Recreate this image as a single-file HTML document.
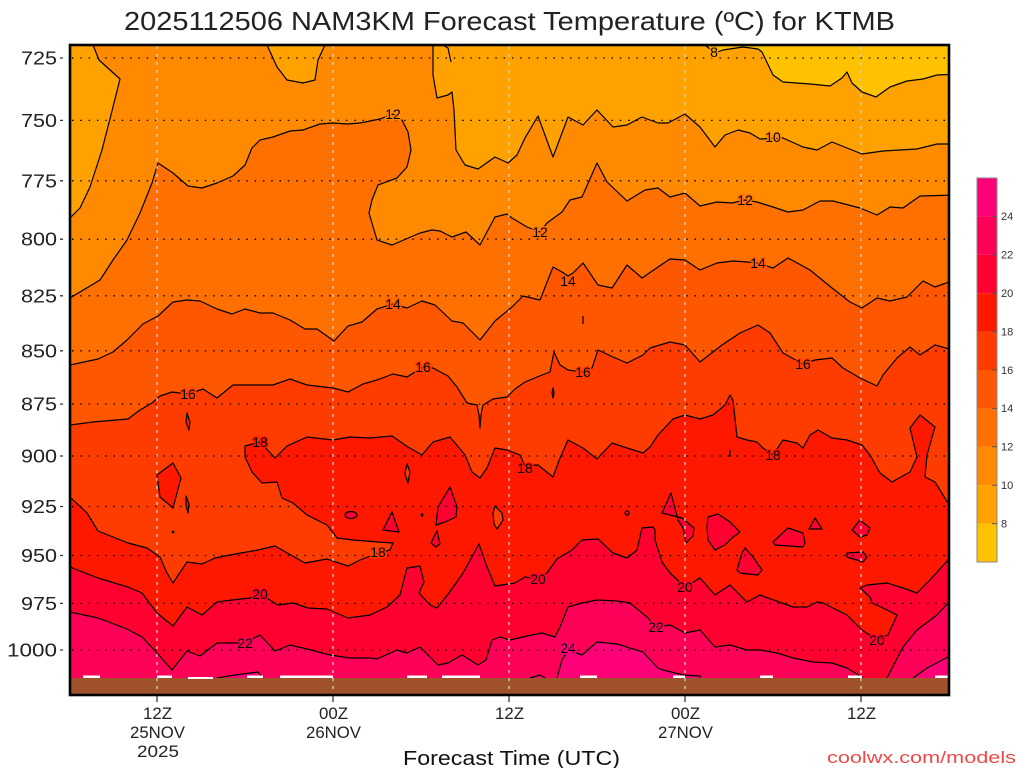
<!DOCTYPE html>
<html><head><meta charset="utf-8"><style>
html,body{margin:0;padding:0;background:#fff;}
svg{display:block;font-family:"Liberation Sans",sans-serif;}
</style></head><body>
<svg width="1024" height="768" viewBox="0 0 1024 768" xmlns="http://www.w3.org/2000/svg">
<defs><clipPath id="c"><rect x="70" y="45" width="879" height="650"/></clipPath></defs>
<rect width="1024" height="768" fill="#fff"/>
<g clip-path="url(#c)" stroke="#000" stroke-width="1.2" stroke-linejoin="round">
<rect x="60" y="38" width="900" height="672" fill="#FF8A00" stroke="none"/>
<!-- <10 regions -->
<path fill="#FFA200" d="M93,38 L93,45 L99,60 L120,79 L113,107 L102,150 L90,187 L80,208 L70,218 L60,220 L60,38 Z"/>
<path fill="#FFA200" d="M267,38 L267,45 L277,67 L287,80 L303,83 L315,80 L318,60 L325,45 L325,38 Z"/>
<path fill="#FFA200" d="M433,38 L433,45 L433,75 L437,98 L448,95 L452,92 L454,110 L456,150 L465,165 L478,169 L495,157 L508,163 L517,155 L525,138 L538,116 L553,157 L568,117 L583,125 L597,110 L613,127 L627,125 L642,117 L658,123 L668,123 L685,114 L700,127 L715,147 L725,135 L738,130 L750,133 L760,139 L783,138 L803,147 L817,150 L832,142 L847,148 L862,154 L883,151 L917,149 L937,144 L960,144 L960,38 Z"/>
<path fill="none" d="M443,45 L448,48 L451,62"/>
<!-- <8 -->
<path fill="#FFC200" d="M705,38 L705,45 L715,53 L723,50 L743,47 L758,49 L762,52 L773,75 L783,82 L810,84 L830,86 L842,78 L847,72 L852,83 L862,92 L876,97 L890,87 L907,81 L923,79 L937,75 L960,74 L960,38 Z"/>
<!-- >=12 -->
<path fill="#FF7000" d="M60,298 L70,298 L100,280 L113,260 L127,240 L140,213 L152,183 L158,163 L173,173 L188,186 L202,188 L217,183 L233,176 L245,165 L252,148 L260,140 L273,137 L290,131 L303,130 L320,124 L333,123 L347,124 L360,123 L380,119 L393,114 L402,120 L408,132 L411,150 L407,167 L397,178 L378,185 L372,200 L369,213 L377,240 L392,245 L420,233 L432,230 L440,231 L452,237 L466,232 L480,245 L495,217 L507,214 L512,218 L527,227 L540,232 L547,223 L562,212 L570,200 L582,197 L597,163 L607,182 L627,201 L645,190 L658,188 L670,197 L685,193 L700,206 L717,202 L732,203 L745,200 L757,202 L773,207 L788,212 L803,210 L820,201 L833,201 L860,208 L877,215 L890,207 L903,208 L920,196 L960,195 L960,710 L60,710 Z"/>
<!-- >=14 -->
<path fill="#FF5700" d="M60,365 L70,365 L98,359 L113,352 L127,340 L143,324 L158,316 L173,302 L187,300 L200,301 L217,309 L232,314 L245,309 L260,313 L273,313 L290,320 L305,329 L317,329 L334,341 L348,326 L362,322 L377,309 L393,304 L407,308 L422,301 L435,305 L452,321 L463,323 L480,340 L495,321 L512,307 L523,296 L540,300 L553,267 L562,272 L568,276 L573,273 L583,263 L598,285 L612,288 L627,265 L642,278 L658,267 L670,259 L685,260 L700,270 L717,263 L733,261 L747,262 L758,263 L773,268 L788,258 L810,270 L832,288 L850,302 L862,308 L877,298 L890,301 L907,297 L923,281 L935,287 L960,278 L960,710 L60,710 Z"/>
<path fill="none" d="M583,316 L583,324"/>
<!-- >=16 -->
<path fill="#FF3C00" d="M60,425 L70,425 L93,422 L128,419 L140,410 L152,403 L160,396 L172,392 L188,394 L203,389 L217,398 L233,385 L273,385 L290,379 L307,385 L333,388 L348,392 L363,384 L377,380 L393,374 L407,377 L415,372 L423,367 L433,368 L448,376 L457,387 L467,403 L477,405 L479,415 L480,428 L481,415 L483,405 L493,399 L507,397 L515,389 L525,382 L542,375 L550,372 L554,352 L560,365 L568,370 L583,372 L592,368 L598,350 L613,357 L627,363 L643,355 L650,348 L670,342 L685,345 L700,362 L722,345 L740,333 L758,325 L770,333 L783,353 L803,364 L815,360 L832,358 L843,368 L860,378 L877,386 L883,375 L897,358 L910,347 L920,355 L935,345 L960,352 L960,710 L60,710 Z"/>
<path fill="#FF1800" d="M187,413 L190,422 L189,430 L186,422 Z"/>
<path fill="#FF1800" d="M553,388 L554,393 L553,398 L552,393 Z"/>
<!-- >=18 -->
<path fill="#FF1800" d="M60,497 L70,497 L87,513 L98,531 L128,543 L147,548 L160,557 L167,573 L173,583 L187,562 L202,564 L215,558 L230,555 L258,550 L275,546 L305,563 L327,559 L348,566 L360,560 L378,553 L390,550 L393,543 L378,542 L353,540 L337,538 L327,525 L307,515 L293,503 L282,498 L277,482 L262,483 L252,472 L245,457 L245,446 L260,442 L275,458 L287,446 L307,437 L333,440 L350,437 L370,438 L392,436 L408,447 L422,455 L433,442 L450,437 L465,455 L472,472 L480,478 L487,468 L495,448 L507,450 L520,455 L525,466 L538,465 L553,477 L560,458 L568,440 L583,448 L597,459 L612,443 L627,448 L643,453 L650,447 L658,435 L673,419 L685,415 L700,419 L713,415 L725,405 L730,395 L733,400 L737,437 L747,440 L757,442 L763,448 L773,455 L783,440 L797,443 L803,448 L810,435 L818,430 L832,438 L847,440 L862,445 L870,455 L880,473 L892,482 L910,472 L917,457 L910,428 L920,415 L935,427 L927,455 L925,477 L935,482 L948,503 L960,505 L960,710 L60,710 Z"/>
<path fill="#FF1800" d="M157,475 L173,463 L181,478 L173,508 L160,497 Z"/>
<path fill="#FF1800" d="M186,496 L189,504 L188,513 L186,505 Z"/>
<path fill="#FF3C00" d="M407,464 L410,472 L408,483 L405,474 Z"/>
<path fill="#FF3C00" d="M495,506 L502,513 L503,520 L497,529 L494,524 L493,513 Z"/>
<ellipse cx="173" cy="532" rx="0.8" ry="0.8" fill="#000"/>
<ellipse cx="422" cy="515" rx="0.8" ry="1.2" fill="#000"/>
<path fill="none" d="M730,450 L730,457"/>
<!-- >=20 -->
<path fill="#FF0030" d="M60,567 L70,567 L98,578 L128,587 L142,593 L157,613 L173,626 L187,607 L202,615 L217,602 L232,600 L250,598 L260,594 L270,600 L278,605 L293,603 L308,608 L327,609 L348,618 L370,615 L387,607 L400,595 L407,568 L420,566 L424,582 L419,593 L430,605 L437,608 L449,593 L463,573 L479,544 L487,567 L495,586 L515,583 L525,577 L538,579 L547,573 L557,559 L572,550 L582,540 L598,539 L613,553 L627,558 L637,550 L642,528 L653,527 L655,530 L655,540 L662,562 L670,573 L685,587 L700,578 L715,595 L730,585 L747,602 L760,595 L793,607 L807,607 L817,602 L823,603 L847,615 L862,630 L877,640 L888,635 L897,615 L883,608 L872,603 L870,597 L860,588 L867,585 L887,583 L903,588 L917,593 L930,580 L948,560 L960,558 L960,710 L60,710 Z"/>
<ellipse cx="351" cy="515" rx="6" ry="3.5" fill="#FF0030"/>
<path fill="#FF0030" d="M392,512 L383,530 L399,532 Z"/>
<path fill="#FF0030" d="M450,487 L457,507 L456,517 L445,522 L436,525 L438,507 Z"/>
<path fill="#FF0030" d="M437,531 L440,544 L436,547 L431,543 Z"/>
<circle cx="627" cy="513" r="2" fill="#FF0030"/>
<path fill="#FF0030" d="M671,493 L662,513 L682,518 L694,528 L693,536 L686,543 L683,528 L678,520 Z"/>
<path fill="#FF0030" d="M708,517 L718,514 L730,522 L740,532 L732,538 L725,545 L715,550 L708,540 L707,527 Z"/>
<path fill="#FF0030" d="M745,548 L753,557 L762,570 L758,575 L740,573 L737,570 L742,553 Z"/>
<path fill="#FF0030" d="M788,528 L803,533 L805,543 L803,547 L775,545 L773,542 Z"/>
<path fill="#FF0030" d="M815,518 L822,529 L809,529 Z"/>
<path fill="#FF0030" d="M860,520 L870,528 L867,535 L860,537 L852,530 Z"/>
<path fill="#FF0030" d="M847,553 L863,552 L867,557 L863,562 L847,557 Z"/>
<!-- >=22 -->
<path fill="#FF0058" d="M60,612 L70,612 L98,618 L127,629 L142,637 L157,653 L172,670 L187,651 L200,656 L217,643 L245,643 L260,635 L275,651 L290,645 L307,649 L330,655 L350,658 L370,658 L377,659 L397,650 L407,653 L420,647 L438,665 L448,663 L462,655 L478,665 L486,660 L492,640 L500,637 L510,640 L527,636 L542,633 L555,637 L560,627 L568,607 L582,603 L597,600 L617,601 L630,603 L647,617 L656,627 L670,625 L685,633 L700,630 L715,647 L730,645 L747,650 L760,650 L777,653 L793,658 L813,662 L832,663 L847,668 L862,677 L864,705 L885,705 L887,678 L903,647 L917,630 L937,615 L948,603 L960,602 L960,710 L60,710 Z"/>
<!-- >=24 -->
<path fill="#FF0078" d="M555,705 L557,678 L562,660 L568,650 L582,655 L597,642 L617,644 L643,652 L658,668 L663,670 L683,675 L700,676 L705,705 Z"/>
<path fill="#FF0078" d="M913,705 L913,678 L927,668 L948,657 L960,655 L960,705 Z"/>
<path fill="#FF0078" d="M215,705 L217,678 L235,675 L258,672 L263,678 L265,705 Z"/>
<path fill="#FF0078" d="M528,705 L530,678 L540,675 L545,678 L546,705 Z"/>
<!-- terrain -->
<rect x="60" y="678" width="900" height="20" fill="#A0522D" stroke="none"/>
<g fill="#fff" stroke="none">
<rect x="83" y="675.5" width="17" height="2.5"/>
<rect x="157" y="675.5" width="15" height="2.5"/>
<rect x="188" y="677" width="25" height="2"/>
<rect x="247" y="675.5" width="16" height="2.5"/>
<rect x="280" y="675.5" width="53" height="2.5"/>
<rect x="407" y="675.5" width="20" height="2.5"/>
<rect x="442" y="675.5" width="38" height="2.5"/>
<rect x="580" y="675.5" width="17" height="2.5"/>
<rect x="673" y="675.5" width="12" height="2.5"/>
<rect x="760" y="675.5" width="13" height="2.5"/>
<rect x="848" y="675.5" width="14" height="2.5"/>
<rect x="935" y="675.5" width="14" height="2.5"/>
</g>
</g>
<!-- grid -->
<g stroke="#000" stroke-width="1.3" stroke-dasharray="1.5 6.8" fill="none">
<path d="M72,58H949M72,120.4H949M72,180.8H949M72,239.2H949M72,295.8H949M72,350.8H949M72,404.1H949M72,456H949M72,506.5H949M72,555.5H949M72,603.4H949M72,650H949"/>
</g>
<g stroke="#cfcfcf" stroke-width="1.3" stroke-dasharray="3 5" fill="none">
<path d="M157,46V694M333,46V694M509,46V694M685,46V694M861,46V694"/>
</g>
<!-- contour labels -->
<g font-size="14" fill="#000" text-anchor="middle" stroke-width="3" paint-order="stroke" stroke-linejoin="round">
<text x="714" y="57" stroke="#FFA200">8</text>
<text x="393" y="119" stroke="#FF8A00">12</text>
<text x="773" y="142" stroke="#FF8A00">10</text>
<text x="540" y="237" stroke="#FF7000">12</text>
<text x="745" y="205" stroke="#FF7000">12</text>
<text x="393" y="309" stroke="#FF5700">14</text>
<text x="568" y="286" stroke="#FF5700">14</text>
<text x="758" y="268" stroke="#FF5700">14</text>
<text x="188" y="399" stroke="#FF3C00">16</text>
<text x="423" y="372" stroke="#FF3C00">16</text>
<text x="583" y="377" stroke="#FF3C00">16</text>
<text x="803" y="369" stroke="#FF3C00">16</text>
<text x="260" y="447" stroke="#FF1800">18</text>
<text x="378" y="557" stroke="#FF3C00">18</text>
<text x="525" y="473" stroke="#FF1800">18</text>
<text x="773" y="460" stroke="#FF1800">18</text>
<text x="260" y="599" stroke="#FF0030">20</text>
<text x="538" y="584" stroke="#FF0030">20</text>
<text x="685" y="592" stroke="#FF0030">20</text>
<text x="877" y="645" stroke="#FF0030">20</text>
<text x="245" y="648" stroke="#FF0058">22</text>
<text x="656" y="632" stroke="#FF0058">22</text>
<text x="568" y="653" stroke="#FF0078">24</text>
</g>
<!-- border -->
<rect x="70" y="45" width="879" height="650" fill="none" stroke="#000" stroke-width="2.6"/>
<!-- y ticks -->
<g stroke="#333" stroke-width="1.3">
<path d="M60,58H63M60,120.4H63M60,180.8H63M60,239.2H63M60,295.8H63M60,350.8H63M60,404.1H63M60,456H63M60,506.5H63M60,555.5H63M60,603.4H63M60,650H63"/>
<path d="M157,696V702M333,696V702M509,696V702M685,696V702M861,696V702"/>
</g>
<g font-size="18" fill="#222" text-anchor="end" lengthAdjust="spacingAndGlyphs">
<text x="57" y="64.5" textLength="36" lengthAdjust="spacingAndGlyphs">725</text>
<text x="57" y="127" textLength="36" lengthAdjust="spacingAndGlyphs">750</text>
<text x="57" y="187.5" textLength="36" lengthAdjust="spacingAndGlyphs">775</text>
<text x="57" y="245.5" textLength="36" lengthAdjust="spacingAndGlyphs">800</text>
<text x="57" y="302.5" textLength="36" lengthAdjust="spacingAndGlyphs">825</text>
<text x="57" y="357.5" textLength="36" lengthAdjust="spacingAndGlyphs">850</text>
<text x="57" y="410.5" textLength="36" lengthAdjust="spacingAndGlyphs">875</text>
<text x="57" y="462.5" textLength="36" lengthAdjust="spacingAndGlyphs">900</text>
<text x="57" y="513" textLength="36" lengthAdjust="spacingAndGlyphs">925</text>
<text x="57" y="562" textLength="36" lengthAdjust="spacingAndGlyphs">950</text>
<text x="57" y="610" textLength="36" lengthAdjust="spacingAndGlyphs">975</text>
<text x="57" y="656.5" textLength="50" lengthAdjust="spacingAndGlyphs">1000</text>
</g>
<g font-size="17" fill="#222">
<text x="143" y="719" textLength="29" lengthAdjust="spacingAndGlyphs">12Z</text>
<text x="130" y="738" textLength="55" lengthAdjust="spacingAndGlyphs">25NOV</text>
<text x="137" y="757" textLength="42" lengthAdjust="spacingAndGlyphs">2025</text>
<text x="319" y="719" textLength="29" lengthAdjust="spacingAndGlyphs">00Z</text>
<text x="306" y="738" textLength="55" lengthAdjust="spacingAndGlyphs">26NOV</text>
<text x="495" y="719" textLength="29" lengthAdjust="spacingAndGlyphs">12Z</text>
<text x="671" y="719" textLength="29" lengthAdjust="spacingAndGlyphs">00Z</text>
<text x="658" y="738" textLength="55" lengthAdjust="spacingAndGlyphs">27NOV</text>
<text x="847" y="719" textLength="29" lengthAdjust="spacingAndGlyphs">12Z</text>
</g>
<text x="403" y="765" font-size="20" fill="#111" textLength="217" lengthAdjust="spacingAndGlyphs">Forecast Time (UTC)</text>
<text x="827" y="763" font-size="17" fill="#F04848" textLength="189" lengthAdjust="spacingAndGlyphs">coolwx.com/models</text>
<text x="124" y="30" font-size="26" fill="#222" textLength="771" lengthAdjust="spacingAndGlyphs">2025112506 NAM3KM Forecast Temperature (ºC) for KTMB</text>
<!-- colorbar -->
<g stroke="none">
<rect x="977" y="523.6" width="20" height="38.4" fill="#FFC200"/>
<rect x="977" y="485.2" width="20" height="38.4" fill="#FFA200"/>
<rect x="977" y="446.8" width="20" height="38.4" fill="#FF8A00"/>
<rect x="977" y="408.4" width="20" height="38.4" fill="#FF7000"/>
<rect x="977" y="370" width="20" height="38.4" fill="#FF5700"/>
<rect x="977" y="331.6" width="20" height="38.4" fill="#FF3C00"/>
<rect x="977" y="293.2" width="20" height="38.4" fill="#FF1800"/>
<rect x="977" y="254.8" width="20" height="38.4" fill="#FF0030"/>
<rect x="977" y="216.4" width="20" height="38.4" fill="#FF0058"/>
<rect x="977" y="178" width="20" height="38.4" fill="#FF0078"/>
</g>
<rect x="977" y="178" width="20" height="384" fill="none" stroke="#888" stroke-width="1"/>
<g stroke="#555" stroke-width="1">
<path d="M992,523.6H997M992,485.2H997M992,446.8H997M992,408.4H997M992,370H997M992,331.6H997M992,293.2H997M992,254.8H997M992,216.4H997"/>
</g>
<g font-size="11" fill="#333">
<text x="1001" y="527.5">8</text>
<text x="1001" y="489">10</text>
<text x="1001" y="450.5">12</text>
<text x="1001" y="412">14</text>
<text x="1001" y="374">16</text>
<text x="1001" y="335.5">18</text>
<text x="1001" y="297">20</text>
<text x="1001" y="258.5">22</text>
<text x="1001" y="220">24</text>
</g>
</svg>
</body></html>
